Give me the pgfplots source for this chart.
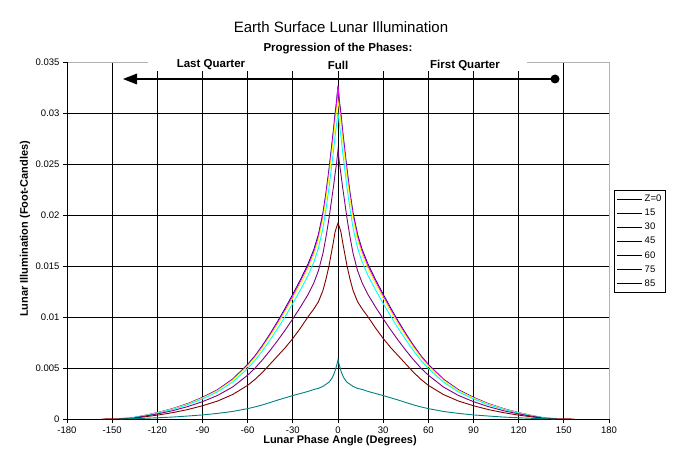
\documentclass[border=0pt]{standalone}
\usepackage{fontspec}
\setmainfont{Liberation Sans}
\usepackage{pgfplots}
\pgfplotsset{compat=1.18}
\usepackage{pgfplotstable}

\definecolor{xlnavy}{HTML}{000080}
\definecolor{xlmagenta}{HTML}{FF00FF}
\definecolor{xlyellow}{HTML}{FFFF00}
\definecolor{xlcyan}{HTML}{00FFFF}
\definecolor{xlpurple}{HTML}{800080}
\definecolor{xlmaroon}{HTML}{800000}
\definecolor{xlteal}{HTML}{008080}

% lunar phase angle (deg) vs illumination (foot-candles), one column per zenith angle
\pgfplotstableread{
a    z0      z15     z30     z45     z60     z75     z85
-157 nan     nan     nan     nan     nan     0.00000 nan
-145 nan     nan     nan     0.00005 nan     0.00003 0.00001
-135 0.00016 0.00016 0.00016 0.00018 0.00013 0.00010 0.00004
-128 0.00036 0.00035 0.00035 0.00033 0.00029 0.00022 0.00007
-120 0.00062 0.00061 0.00060 0.00057 0.00050 0.00038 0.00012
-110 0.00101 0.00100 0.00098 0.00094 0.00081 0.00062 0.00019
-100 0.00150 0.00148 0.00145 0.00139 0.00121 0.00092 0.00029
-90  0.00212 0.00209 0.00205 0.00196 0.00170 0.00130 0.00040
-80  0.00287 0.00283 0.00278 0.00266 0.00231 0.00176 0.00055
-70  0.00391 0.00386 0.00379 0.00362 0.00314 0.00240 0.00074
-60  0.00535 0.00528 0.00518 0.00495 0.00430 0.00330 0.00102
-55  0.00622 0.00615 0.00603 0.00577 0.00500 0.00390 0.00119
-50  0.00725 0.00716 0.00703 0.00672 0.00583 0.00460 0.00139
-45  0.00838 0.00828 0.00813 0.00777 0.00674 0.00540 0.00162
-40  0.00959 0.00948 0.00930 0.00889 0.00771 0.00620 0.00186
-35  0.01088 0.01074 0.01054 0.01007 0.00874 0.00700 0.00208
-30  0.01223 0.01208 0.01185 0.01133 0.00983 0.00790 0.00230
-25  0.01364 0.01348 0.01322 0.01264 0.01096 0.00890 0.00250
-20  0.01516 0.01497 0.01469 0.01404 0.01218 0.01000 0.00270
-16  0.01663 0.01642 0.01612 0.01540 0.01336 0.01080 0.00290
-13  0.01809 0.01787 0.01754 0.01676 0.01454 0.01150 0.00300
-10  0.02021 0.01996 0.01959 0.01872 0.01624 0.01260 0.00320
-8   0.02217 0.02190 0.02149 0.02054 0.01782 0.01370 0.00340
-6   0.02445 0.02415 0.02370 0.02265 0.01965 0.01500 0.00360
-4   0.02706 0.02673 0.02623 0.02507 0.02175 0.01660 0.00400
-3   0.02836 0.02801 0.02749 0.02627 0.02279 0.01740 0.00430
-2   0.02983 0.02946 0.02891 0.02763 0.02397 0.01830 0.00470
-1   0.03113 0.03075 0.03018 0.02884 0.02502 0.01880 0.00520
0    0.03260 0.03270 0.03120 0.03000 0.02640 0.01920 0.00580
1    0.03113 0.03075 0.03018 0.02884 0.02502 0.01880 0.00520
2    0.02983 0.02946 0.02891 0.02763 0.02397 0.01830 0.00470
3    0.02836 0.02801 0.02749 0.02627 0.02279 0.01740 0.00430
4    0.02706 0.02673 0.02623 0.02507 0.02175 0.01660 0.00400
6    0.02445 0.02415 0.02370 0.02265 0.01965 0.01500 0.00360
8    0.02217 0.02190 0.02149 0.02054 0.01782 0.01370 0.00340
10   0.02021 0.01996 0.01959 0.01872 0.01624 0.01260 0.00320
13   0.01809 0.01787 0.01754 0.01676 0.01454 0.01150 0.00300
16   0.01663 0.01642 0.01612 0.01540 0.01336 0.01080 0.00290
20   0.01516 0.01497 0.01469 0.01404 0.01218 0.01000 0.00270
25   0.01364 0.01348 0.01322 0.01264 0.01096 0.00890 0.00250
30   0.01223 0.01208 0.01185 0.01133 0.00983 0.00790 0.00230
35   0.01088 0.01074 0.01054 0.01007 0.00874 0.00700 0.00208
40   0.00959 0.00948 0.00930 0.00889 0.00771 0.00620 0.00186
45   0.00838 0.00828 0.00813 0.00777 0.00674 0.00540 0.00162
50   0.00725 0.00716 0.00703 0.00672 0.00583 0.00460 0.00139
55   0.00622 0.00615 0.00603 0.00577 0.00500 0.00390 0.00119
60   0.00535 0.00528 0.00518 0.00495 0.00430 0.00330 0.00102
70   0.00391 0.00386 0.00379 0.00362 0.00314 0.00240 0.00074
80   0.00287 0.00283 0.00278 0.00266 0.00231 0.00176 0.00055
90   0.00212 0.00209 0.00205 0.00196 0.00170 0.00130 0.00040
100  0.00150 0.00148 0.00145 0.00139 0.00121 0.00092 0.00029
110  0.00101 0.00100 0.00098 0.00094 0.00081 0.00062 0.00019
120  0.00062 0.00061 0.00060 0.00057 0.00050 0.00038 0.00012
128  0.00036 0.00035 0.00035 0.00033 0.00029 0.00022 0.00007
135  0.00016 0.00016 0.00016 0.00018 0.00013 0.00010 0.00004
145  nan     nan     nan     0.00005 nan     0.00003 0.00001
157  nan     nan     nan     nan     nan     0.00000 nan
}\moon

\begin{document}
\begin{tikzpicture}[x=1pt,y=1pt]
\useasboundingbox (0,0) rectangle (683,467);
\begin{axis}[
    at={(67pt,48pt)}, anchor=south west,
    scale only axis, width=542pt, height=357pt,
    xmin=-180, xmax=180, ymin=0, ymax=0.035,
    xtick={-180,-150,-120,-90,-60,-30,0,30,60,90,120,150,180},
    xticklabels={-180,-150,-120,-90,-60,-30,0,30,60,90,120,150,180},
    ytick={0,0.005,0.01,0.015,0.02,0.025,0.03,0.035},
    yticklabels={0,0.005,0.01,0.015,0.02,0.025,0.03,0.035},
    scaled y ticks=false,
    grid=major,
    major grid style={black, line width=0.9pt},
    tick align=outside, major tick length=4pt,
    xtick pos=left, ytick pos=left,
    tick style={black, line width=0.9pt},
    axis line style={draw=none},
    ticklabel style={font=\fontsize{9.5}{11}\selectfont},
    clip=false,
    legend style={at={(1.009,0.641)}, anchor=north west, draw=black,
        line width=0.9pt, font=\fontsize{9.5}{11}\selectfont,
        inner sep=2.5pt, row sep=2pt},
    legend cell align=left,
    legend image code/.code={\draw[black, line width=0.9pt] (0pt,0pt) -- (25pt,0pt);},
]
\draw[gray!60, line width=0.9pt] (rel axis cs:0,1) -- (rel axis cs:1,1) -- (rel axis cs:1,0);
\draw[black, line width=0.9pt] (rel axis cs:0,1) -- (rel axis cs:0,0) -- (rel axis cs:1,0);
\addplot[xlnavy, line width=0.9pt] table[x=a, y=z0] {\moon};
\addlegendentry{Z=0}
\addplot[xlmagenta, line width=0.9pt] table[x=a, y=z15] {\moon};
\addlegendentry{15}
\addplot[xlyellow, line width=0.9pt] table[x=a, y=z30] {\moon};
\addlegendentry{30}
\addplot[xlcyan, line width=0.9pt] table[x=a, y=z45] {\moon};
\addlegendentry{45}
\addplot[xlpurple, line width=0.9pt] table[x=a, y=z60] {\moon};
\addlegendentry{60}
\addplot[xlmaroon, line width=0.9pt] table[x=a, y=z75] {\moon};
\addlegendentry{75}
\addplot[xlteal, line width=0.9pt] table[x=a, y=z85] {\moon};
\addlegendentry{85}
\end{axis}

% phase annotation box over the top of the plot area
\fill[white] (148,396) rectangle (527,427);
\node[font=\bfseries\fontsize{11.5}{13}\selectfont] at (338,418) {Progression of the Phases:};
\node[font=\bfseries\fontsize{11.5}{13}\selectfont] at (211,402) {Last Quarter};
\node[font=\bfseries\fontsize{11.5}{13}\selectfont] at (338,402) {Full};
\node[font=\bfseries\fontsize{11.5}{13}\selectfont] at (465,402) {First Quarter};
\draw[black, line width=2.5pt] (132,388) -- (555,388);
\fill[black] (123,388) -- (137,393.5) -- (137,382.5) -- cycle;
\fill[black] (555,388) circle (4.5);

\node[font=\fontsize{15}{18}\selectfont] at (341,440) {Earth Surface Lunar Illumination};
\node[font=\bfseries\fontsize{11}{13}\selectfont] at (340,26) {Lunar Phase Angle (Degrees)};
\node[font=\bfseries\fontsize{11}{13}\selectfont, rotate=90] at (25,238) {Lunar Illumination (Foot-Candles)};
\end{tikzpicture}
\end{document}
